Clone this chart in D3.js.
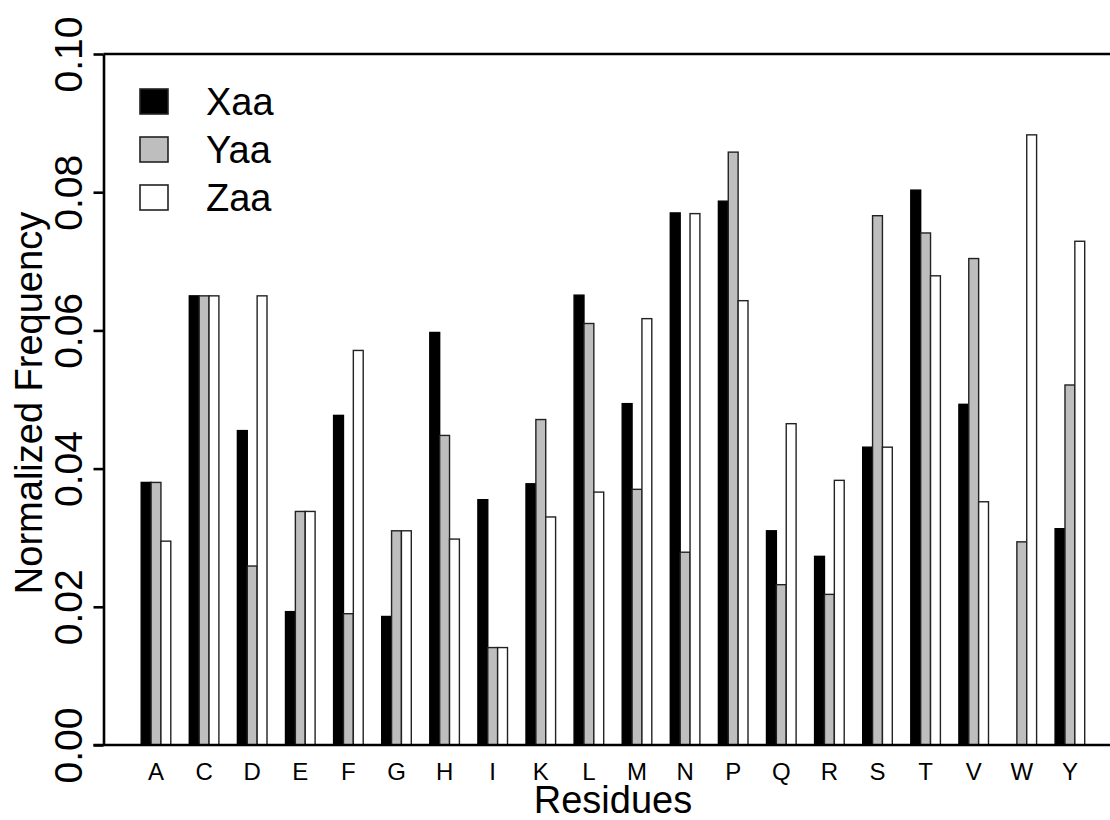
<!DOCTYPE html>
<html>
<head>
<meta charset="utf-8">
<script src="https://cdn.jsdelivr.net/npm/d3@7"></script>
<style>
  html, body { margin: 0; padding: 0; background: #fff; }
  svg { display: block; font-family: "Liberation Sans", Arial, Helvetica, sans-serif; }
</style>
</head>
<body>
<svg id="chart" width="1110" height="820"></svg>
<script>
// Residue frequencies per position in the repeat
const residues = ["A","C","D","E","F","G","H","I","K","L","M","N","P","Q","R","S","T","V","W","Y"];
const seriesNames = ["Xaa","Yaa","Zaa"];
const xaa = [0.0380,0.0650,0.0455,0.0193,0.0477,0.0186,0.0597,0.0355,0.0378,0.0651,0.0494,0.0770,0.0787,0.0310,0.0273,0.0431,0.0803,0.0493,0.0000,0.0313];
const yaa = [0.0380,0.0650,0.0259,0.0338,0.0190,0.0310,0.0448,0.0141,0.0471,0.0610,0.0370,0.0279,0.0858,0.0232,0.0218,0.0766,0.0741,0.0704,0.0294,0.0521];
const zaa = [0.0295,0.0650,0.0650,0.0338,0.0571,0.0310,0.0298,0.0141,0.0330,0.0366,0.0617,0.0769,0.0643,0.0465,0.0383,0.0431,0.0679,0.0352,0.0883,0.0729];
const yTicks = [0.00,0.02,0.04,0.06,0.08,0.10];

const seriesValues = [xaa, yaa, zaa];
const fills = ["#000000", "#bebebe", "#ffffff"];

const svg = d3.select("#chart");
const W = 1110;
const axisX = 103.5, y0 = 745, yTop = 54;

const x = d3.scaleBand().domain(residues).range([131.95, 1093.95]).paddingInner(0).paddingOuter(0);
const groupW = 29.6;
const xs = d3.scaleBand().domain(seriesNames).range([-groupW / 2, groupW / 2]);
const y = d3.scaleLinear().domain([0, 0.1]).range([y0, yTop]);

// bars
const groups = svg.append("g").selectAll("g")
  .data(residues)
  .join("g")
  .attr("transform", d => `translate(${x(d) + x.bandwidth() / 2},0)`);

groups.selectAll("rect")
  .data((d, i) => seriesNames.map((s, k) => ({ s, k, v: seriesValues[k][i] })))
  .join("rect")
  .filter(d => d.v > 0)
  .attr("x", d => xs(d.s))
  .attr("width", xs.bandwidth())
  .attr("y", d => y(d.v))
  .attr("height", d => y0 - y(d.v))
  .attr("fill", d => fills[d.k])
  .attr("stroke", d => d.k === 0 ? "#000" : "#222")
  .attr("stroke-width", 1.4);

// y axis
const yAxis = svg.append("g")
  .attr("transform", `translate(${axisX},0)`)
  .call(d3.axisLeft(y).tickValues(yTicks).tickFormat(d3.format(".2f")).tickSize(10).tickSizeOuter(0));
yAxis.select(".domain").attr("stroke", "#000").attr("stroke-width", 2.6);
yAxis.selectAll(".tick line").attr("stroke", "#000").attr("stroke-width", 2.6);
yAxis.selectAll(".tick text")
  .attr("transform", "rotate(-90)")
  .attr("x", 0)
  .attr("y", -21.5)
  .attr("dy", null)
  .attr("text-anchor", "middle")
  .attr("fill", "#000")
  .style("font-size", "39px")
  .style("font-family", "'Liberation Sans', Arial, sans-serif");

// bottom baseline and top frame line
svg.append("line").attr("x1", axisX - 10).attr("x2", W).attr("y1", y0).attr("y2", y0)
  .attr("stroke", "#000").attr("stroke-width", 2.6);
svg.append("line").attr("x1", axisX).attr("x2", W).attr("y1", yTop).attr("y2", yTop)
  .attr("stroke", "#000").attr("stroke-width", 2.6);

// x axis labels
const xAxis = svg.append("g")
  .attr("transform", `translate(0,${y0})`)
  .call(d3.axisBottom(x).tickSize(0).tickPadding(0));
xAxis.select(".domain").remove();
xAxis.selectAll(".tick text")
  .attr("y", 35)
  .attr("dy", null)
  .attr("fill", "#000")
  .style("font-size", "24px")
  .style("font-family", "'Liberation Sans', Arial, sans-serif");

// axis titles
svg.append("text")
  .attr("x", 613).attr("y", 813)
  .attr("text-anchor", "middle")
  .style("font-size", "38px")
  .text("Residues");

svg.append("text")
  .attr("transform", "translate(42,403) rotate(-90)")
  .attr("text-anchor", "middle")
  .style("font-size", "38px")
  .text("Normalized Frequency");

// legend
const legend = svg.append("g").selectAll("g")
  .data(seriesNames)
  .join("g")
  .attr("transform", (d, i) => `translate(140,${89 + i * 48})`);
legend.append("rect")
  .attr("width", 28).attr("height", 25)
  .attr("fill", (d, i) => fills[i])
  .attr("stroke", "#222").attr("stroke-width", 1.6);
legend.append("text")
  .attr("x", 66).attr("y", 26)
  .style("font-size", "38px")
  .text(d => d);
</script>
</body>
</html>
